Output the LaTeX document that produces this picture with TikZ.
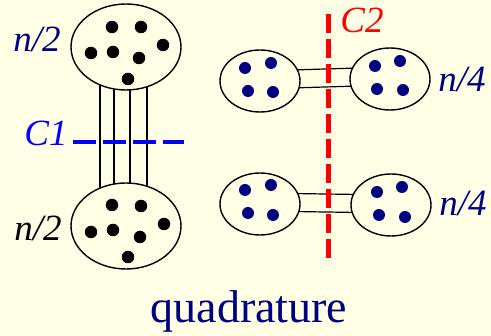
\documentclass[tikz,border=0pt]{standalone}
\usepackage{fontspec}
\newfontfamily\tms{Liberation Serif}
\usetikzlibrary{shapes.geometric,backgrounds}
\definecolor{bgcream}{RGB}{255,255,230}
\definecolor{navyblue}{RGB}{0,0,128}
\definecolor{cutblue}{RGB}{0,0,255}
\definecolor{cutred}{RGB}{255,0,0}
\tikzset{
  bigblob/.style={ellipse,draw=black,line width=1.4pt,fill=bgcream,minimum width=110pt,minimum height=86pt,inner sep=0pt},
  smallblob/.style={ellipse,draw=black,line width=1.4pt,fill=bgcream,minimum width=80pt,minimum height=62pt,inner sep=0pt},
  blackdot/.style={circle,fill=black,minimum size=12.5pt,inner sep=0pt},
  navydot/.style={circle,fill=navyblue,minimum size=12pt,inner sep=0pt},
  edge/.style={draw=black,line width=1.2pt},
  lbl/.style={font=\tms\fontsize{37}{37}\selectfont\itshape,anchor=base,inner sep=0pt},
}
\begin{document}
\begin{tikzpicture}[x=1pt,y=-1pt]
\useasboundingbox (0,0) rectangle (491,336);
\begin{scope}[on background layer]
\fill[bgcream] (0,0) rectangle (491,336);
\end{scope}
% left blobs
\node[bigblob] (ltop) at (126,47) {};
\node[bigblob] (lbot) at (126,226) {};
% right blobs
\node[smallblob] (a1) at (260,81) {};
\node[smallblob] (a2) at (390,79) {};
\node[smallblob] (b1) at (260,204) {};
\node[smallblob] (b2) at (391,205) {};
% connectors (behind blobs)
\begin{scope}[on background layer]
\foreach \dx in {-26,-12,4,21}
  \draw[edge] ([xshift=\dx pt]ltop.center) -- ([xshift=\dx pt]lbot.center);
\draw[edge] ([yshift=-8pt]a1.center) -- ([yshift=-6pt]a2.center);
\draw[edge] ([yshift=10pt]a1.center) -- ([yshift=12pt]a2.center);
\draw[edge] ([yshift=-7pt]b1.center) -- ([yshift=-8pt]b2.center);
\draw[edge] ([yshift=11pt]b1.center) -- ([yshift=10pt]b2.center);
\end{scope}
% dots
\foreach \p in {(112,27),(141,27),(163,45),(91,53),(113,52),(139,58),(128,79),
                (112,205),(141,206),(164,224),(91,232),(113,230),(140,237),(128,257)}
  \node[blackdot] at \p {};
\foreach \p in {(245,68),(271,63),(248,91),(273,92),
                (375,66),(400,61),(377,89),(403,90),
                (245,190),(271,185),(248,213),(273,215),
                (377,192),(402,187),(379,215),(405,217)}
  \node[navydot] at \p {};
% cuts
\coordinate (c1a) at (73,142);
\coordinate (c1b) at (184,142);
\draw[cutblue,line width=4.5pt,dash pattern=on 23pt off 7pt] (c1a) -- (c1b);
\coordinate (c2a) at (328,14);
\coordinate (c2b) at (328,260);
\draw[cutred,line width=5pt,dash pattern=on 19pt off 6pt] (c2a) -- (c2b);
% labels
\node[lbl,navyblue] (l1) at (37,52) {n/2};
\node[lbl,black] (l2) at (38,241) {n/2};
\node[lbl,cutblue] (l3) at (46,146) {C1};
\node[lbl,cutred] (l4) at (362,33) {C2};
\node[lbl,navyblue] (l5) at (462,92) {n/4};
\node[lbl,navyblue] (l6) at (463,216) {n/4};
\node[font=\tms\fontsize{46}{46}\selectfont,navyblue,anchor=base,inner sep=0pt] (q) at (249,323) {quadrature};
\end{tikzpicture}
\end{document}
